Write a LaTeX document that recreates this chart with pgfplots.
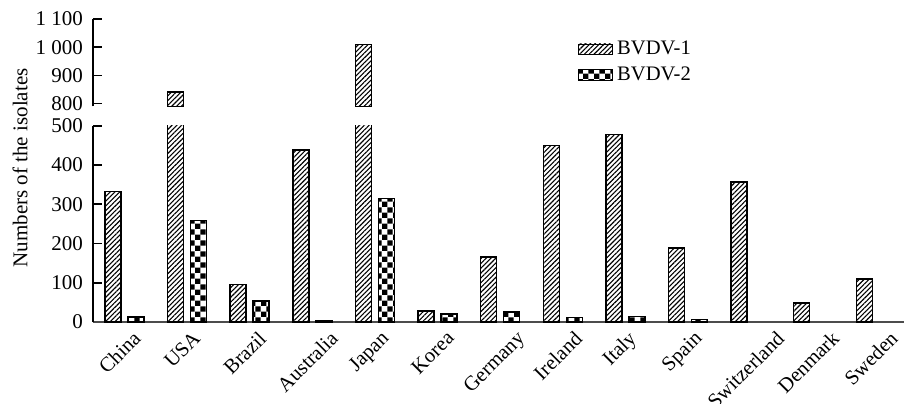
\documentclass[border=0pt]{standalone}
\usepackage{fontspec}
\setmainfont{Liberation Serif}
\usepackage{graphicx}
\usepackage{pgfplots}
\usepackage{pgfplotstable}
\pgfplotsset{compat=1.18}
\usetikzlibrary{patterns,patterns.meta}

\tikzdeclarepattern{
  name=mycheck,
  type=uncolored,
  bottom left={(0pt,0pt)},
  top right={(5.4pt,5.4pt)},
  tile size={(5.4pt,5.4pt)},
  code={
    \fill (0pt,0pt) rectangle (2.7pt,2.7pt);
    \fill (2.7pt,2.7pt) rectangle (5.4pt,5.4pt);
  }
}

\pgfplotstableread{
x v1 v2
0 333 13
1 841 258
2 95 53
3 438 3
4 1010 315
5 28 20
6 165 26
7 449 12
8 478 14
9 188 7
10 357 nan
11 48 nan
12 110 nan
}\datatable

\newcommand{\rl}[1]{\rotatebox{45}{#1}}

\pgfplotsset{
  brk/.style={
    scale only axis,
    width=405.5pt,
    xmin=-0.503, xmax=12.45,
    ybar, bar width=8pt,
    axis y line=left,
    axis line style={-, line width=0.8pt},
    tick align=inside,
    major tick length=4.5pt,
    tick style={line width=0.8pt, black},
    /pgf/number format/assume math mode=true,
    yticklabel style={font=\fontsize{10.5}{12}\selectfont, xshift=-1.5pt},
  },
  b1/.style={draw=black, line width=0.75pt, pattern={Lines[angle=45,distance=1.7pt,line width=0.55pt]}, bar shift=-5.75pt},
  b2/.style={draw=black, line width=0.75pt, pattern=mycheck, bar shift=5.75pt},
}

\begin{document}
\begin{tikzpicture}
\begin{axis}[brk,
  at={(0pt,0pt)}, anchor=south west,
  height=98.15pt,
  ymin=0, ymax=500,
  ytick={0,100,200,300,400,500},
  axis x line=bottom,
  x axis line style={-, black!70},
  xtick={0,1,2,3,4,5,6,7,8,9,10,11,12},
  xticklabels={\rl{China},\rl{USA},\rl{Brazil},\rl{Australia},\rl{Japan},\rl{Korea},\rl{Germany},\rl{Ireland},\rl{Italy},\rl{Spain},\rl{Switzerland},\rl{Denmark},\rl{Sweden}},
  x tick label style={anchor=north, inner sep=0pt, font=\fontsize{10.3}{12}\selectfont, xshift=-2.5pt, yshift=-1.5pt},
  xtick style={draw=none},
  ylabel={Numbers of the isolates},
  ylabel style={at={(axis description cs:-0.09,0.785)}, anchor=center, font=\fontsize{10.5}{12}\selectfont},
]
\addplot[b1] table[x=x,y=v1]{\datatable};
\addplot[b2] table[x=x,y=v2]{\datatable};
\end{axis}
\begin{axis}[brk,
  at={(0pt,107.85pt)}, anchor=south west,
  height=43.65pt,
  ymin=790, ymax=1100,
  ytick={800,900,1000,1100},
  yticklabels={800,900,1 000,1 100},
  axis x line=none,
  legend style={at={(axis description cs:0.598,0.80)}, anchor=north west, draw=none, fill=none,
    font=\fontsize{10.3}{12}\selectfont, row sep=0.5pt, inner sep=0pt},
  legend cell align=left,
  legend image code/.code={\draw[#1, line width=0.4pt] (0pt,-2.6pt) rectangle (17pt,2.6pt);},
]
\addplot[b1, restrict y to domain=790:2000] table[x=x,y=v1]{\datatable};
\addlegendentry{BVDV-1}
\addlegendimage{b2}
\addlegendentry{BVDV-2}
\end{axis}
\pgfresetboundingbox
\path (-46.5pt,-40.5pt) rectangle (405.5pt,161pt);
\end{tikzpicture}
\end{document}
